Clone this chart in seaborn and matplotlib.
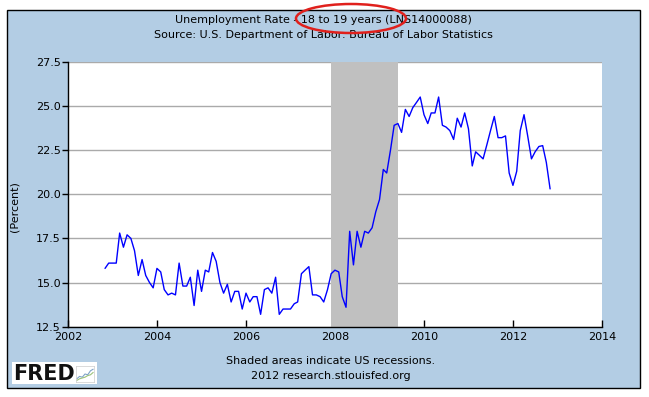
import numpy as np
import pandas as pd
import matplotlib
matplotlib.use("Agg")
import matplotlib.pyplot as plt
import matplotlib.dates as mdates
from matplotlib.patches import Rectangle, Ellipse
import seaborn as sns

# monthly values, Nov 2002 .. Nov 2012
rate = [
    15.8, 16.1, 16.1, 16.1, 17.8, 17.0, 17.7, 17.5, 16.8, 15.4, 16.3, 15.4,
    15.0, 14.7, 15.8, 15.6, 14.6, 14.3, 14.4, 14.3, 16.1, 14.8, 14.8, 15.3,
    13.7, 15.7, 14.5, 15.7, 15.6, 16.7, 16.2, 15.0, 14.4, 14.9, 13.9, 14.5,
    14.5, 13.5, 14.4, 13.9, 14.2, 14.2, 13.2, 14.6, 14.7, 14.4, 15.3, 13.2,
    13.5, 13.5, 13.5, 13.8, 13.9, 15.5, 15.7, 15.9, 14.3, 14.3, 14.2, 13.9,
    14.6, 15.5, 15.7, 15.6, 14.2, 13.6, 17.9, 16.0, 17.9, 17.0, 17.9, 17.8,
    18.1, 19.0, 19.7, 21.4, 21.2, 22.5, 23.9, 24.0, 23.5, 24.8, 24.4, 24.9,
    25.2, 25.5, 24.5, 24.0, 24.6, 24.6, 25.5, 23.9, 23.8, 23.6, 23.1, 24.3,
    23.8, 24.6, 23.7, 21.6, 22.4, 22.2, 22.0, 22.8, 23.6, 24.4, 23.2, 23.2,
    23.3, 21.2, 20.5, 21.3, 23.6, 24.5, 23.3, 22.0, 22.4, 22.7, 22.75, 21.8,
    20.3,
]
dates = pd.date_range("2002-11-01", periods=len(rate), freq="MS")
recession = ("2007-12-01", "2009-06-01")
year_ticks = [2002, 2004, 2006, 2008, 2010, 2012, 2014]
y_ticks = [12.5, 15.0, 17.5, 20.0, 22.5, 25.0, 27.5]
logo_line_a = [0.2, 0.35, 0.3, 0.5, 0.45, 0.7, 0.8]
logo_line_b = [0.1, 0.2, 0.25, 0.3, 0.4, 0.45, 0.6]

df = pd.DataFrame({"date": dates, "rate": rate})

sns.set_style("white")
plt.rcParams["font.family"] = ["DejaVu Sans"]
plt.rcParams.update({"text.color": "black", "axes.labelcolor": "black",
                     "xtick.color": "black", "ytick.color": "black"})

W, H = 649, 397
fig = plt.figure(figsize=(W / 100, H / 100), dpi=100, facecolor="white")

# light blue FRED panel with black border
fig.patches.append(Rectangle((7 / W, 1 - 388 / H), 633 / W, 378 / H,
                             transform=fig.transFigure, facecolor="#b3cde4",
                             edgecolor="black", lw=1, zorder=-10))

ax = fig.add_axes([68 / W, 1 - 326.7 / H, 534 / W, 265 / H])
ax.set_facecolor("white")
ax.set_axisbelow(True)

ax.axvspan(pd.Timestamp(recession[0]), pd.Timestamp(recession[1]),
           color="#c0c0c0", lw=0, zorder=1)
sns.lineplot(data=df, x="date", y="rate", color="#0000ff", lw=1.0, ax=ax, zorder=3)

ax.set_xlim(pd.Timestamp("2002-01-01"), pd.Timestamp("2014-01-01"))
ax.set_ylim(12.5, 27.5)
ax.set_xticks([pd.Timestamp(f"{y}-01-01") for y in year_ticks])
ax.xaxis.set_major_formatter(mdates.DateFormatter("%Y"))
ax.set_yticks(y_ticks)
ax.set_yticklabels([f"{v:.1f}" for v in y_ticks])
ax.yaxis.grid(True, color="#aaaaaa", lw=1)
ax.xaxis.grid(False)

for s in ["top", "right"]:
    ax.spines[s].set_visible(False)
for s in ["left", "bottom"]:
    ax.spines[s].set_color("black")
    ax.spines[s].set_linewidth(1)

ax.tick_params(axis="y", direction="out", length=4, width=1, pad=1,
               labelsize=8, color="black", left=True)
ax.tick_params(axis="x", direction="in", length=5, width=1, pad=4,
               labelsize=8, color="black", bottom=True)
ax.set_xlabel("")
ax.set_ylabel("(Percent)", fontsize=8)
ax.yaxis.set_label_coords(-0.09, 0.452)

fig.text(323.5 / W, 1 - 20 / H, "Unemployment Rate - 18 to 19 years (LNS14000088)",
         ha="center", va="center", fontsize=8)
fig.text(323.5 / W, 1 - 35 / H, "Source: U.S. Department of Labor: Bureau of Labor Statistics",
         ha="center", va="center", fontsize=8)
fig.text(331 / W, 1 - 361 / H, "Shaded areas indicate US recessions.",
         ha="center", va="center", fontsize=8)
fig.text(331 / W, 1 - 376 / H, "2012 research.stlouisfed.org",
         ha="center", va="center", fontsize=8)

# red circle drawn around the age group
fig.patches.append(Ellipse((351 / W, 1 - 18.5 / H), 110 / W, 29 / H,
                           transform=fig.transFigure, fill=False,
                           edgecolor="#e0201c", lw=1.8, zorder=5))

# FRED logo
fig.patches.append(Rectangle((12 / W, 1 - 384 / H), 85 / W, 22 / H,
                             transform=fig.transFigure, facecolor="white",
                             edgecolor="none", zorder=-5))
fig.text(13 / W, 1 - 373.5 / H, "FRED", ha="left", va="center",
         fontsize=15, fontweight="heavy", color="#111111")
icon = fig.add_axes([76 / W, 1 - 382 / H, 18 / W, 16 / H])
icon.plot(logo_line_a, color="#7fa3c8", lw=0.8)
icon.plot(logo_line_b, color="#9cc27a", lw=0.8)
icon.set_xticks([])
icon.set_yticks([])
icon.set_ylim(0, 1)
for s in icon.spines.values():
    s.set_color("#cccccc")
    s.set_linewidth(0.5)

fig.savefig("out.png", dpi=100, facecolor="white")
